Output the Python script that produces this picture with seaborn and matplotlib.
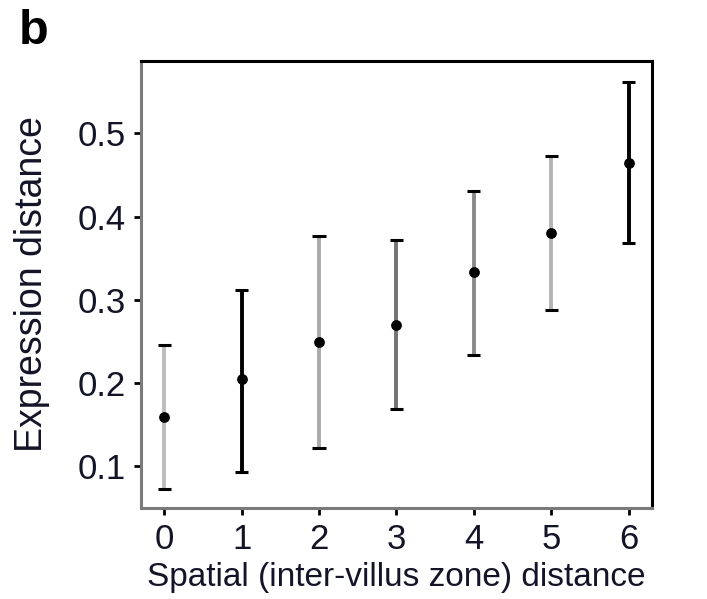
import matplotlib
matplotlib.use("Agg")
import matplotlib.pyplot as plt
import seaborn as sns
import pandas as pd

# Data
distance = [0, 1, 2, 3, 4, 5, 6]
mean_expr = [0.159, 0.205, 0.249, 0.269, 0.333, 0.380, 0.464]
lower_expr = [0.072, 0.093, 0.122, 0.169, 0.233, 0.288, 0.368]
upper_expr = [0.245, 0.312, 0.376, 0.372, 0.431, 0.473, 0.562]
bar_colors = ["#bdbdbd", "#000000", "#aaaaaa", "#737373", "#8a8a8a", "#b5b5b5", "#000000"]
y_ticks = [0.1, 0.2, 0.3, 0.4, 0.5]

df = pd.DataFrame({"dist": distance, "mean": mean_expr,
                   "lo": lower_expr, "hi": upper_expr, "col": bar_colors})

sns.set_theme(style="white")
plt.rcParams["font.family"] = ["Liberation Sans", "DejaVu Sans"]

fig = plt.figure(figsize=(7.07, 5.99), dpi=100)
ax = fig.add_axes([0.1994, 0.1519, 0.7228, 0.7463])

for _, r in df.iterrows():
    ax.errorbar(r["dist"], r["mean"],
                yerr=[[r["mean"] - r["lo"]], [r["hi"] - r["mean"]]],
                fmt="none", ecolor=r["col"], elinewidth=2.8, capsize=0, zorder=2)
    ax.hlines([r["lo"], r["hi"]], r["dist"] - 0.085, r["dist"] + 0.085,
              colors="black", linewidth=2.2, zorder=3)

sns.scatterplot(data=df, x="dist", y="mean", ax=ax, color="black", s=60,
                marker="o", edgecolor="black", linewidth=0, zorder=4, legend=False)

ax.set_xlim(-0.3, 6.3)
ax.set_ylim(0.0495, 0.587)
ax.set_xticks(distance)
ax.set_xticklabels([str(d) for d in distance])
ax.set_yticks(y_ticks)
ax.set_yticklabels([f"{t:.1f}" for t in y_ticks])

ax.tick_params(axis="both", which="both", direction="out", length=5, width=2,
               color="black", labelsize=25, labelcolor="#141428", pad=6,
               left=True, bottom=True)

ax.set_xlabel("Spatial (inter-villus zone) distance", fontsize=24,
              color="#141428", labelpad=4)
ax.set_ylabel("Expression distance", fontsize=27, color="#141428", labelpad=20)

for side in ["top", "right"]:
    ax.spines[side].set_color("black")
    ax.spines[side].set_linewidth(2.2)
for side in ["left", "bottom"]:
    ax.spines[side].set_color("#7a7a7a")
    ax.spines[side].set_linewidth(2.2)
for side in ax.spines:
    ax.spines[side].set_visible(True)

fig.text(0.027, 0.926, "b", fontsize=35, fontweight="bold", color="black")

fig.savefig("out.png", dpi=100)
